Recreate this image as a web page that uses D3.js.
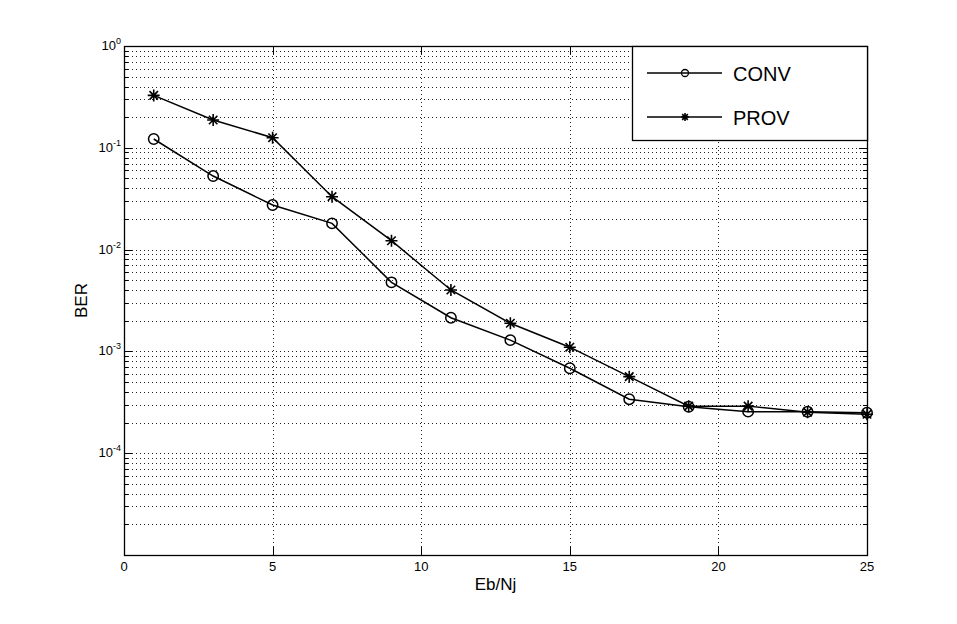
<!DOCTYPE html>
<html>
<head>
<meta charset="utf-8">
<title>BER vs Eb/Nj</title>
<script src="https://d3js.org/d3.v7.min.js"></script>
<style>
    body { margin: 0; background: #fff; }
    svg text { font-family: "Liberation Sans", Arial, sans-serif; fill: #000; }
</style>
</head>
<body>
<svg id="chart" width="957" height="624"></svg>
<script>
// data
var ebnj = [1, 3, 5, 7, 9, 11, 13, 15, 17, 19, 21, 23, 25];
var conv = [0.122, 0.0528, 0.0274, 0.0181, 0.00477, 0.00214, 0.00129, 0.000683, 0.000339, 0.000286, 0.000256, 0.000255, 0.00025];
var prov = [0.327, 0.1875, 0.1257, 0.0331, 0.01223, 0.00401, 0.00189, 0.0011, 0.000565, 0.00029, 0.00029, 0.000253, 0.000241];
var xTicks = [0, 5, 10, 15, 20, 25];
var yExps = [0, -1, -2, -3, -4];

var pL = 124, pR = 867, pT = 46, pB = 555;

var svg = d3.select("#chart");

var x = d3.scaleLinear().domain([0, 25]).range([pL, pR]);
var y = d3.scaleLog().domain([1e-5, 1]).range([pB, pT]);

// minor + major log positions
var yAll = [];
for (var e = -5; e < 0; e++) {
    for (var k = 1; k <= 9; k++) yAll.push(k * Math.pow(10, e));
}
yAll.push(1);

// grid
var grid = svg.append("g").attr("stroke", "#222").attr("stroke-width", 1)
    .attr("stroke-dasharray", "1,3").attr("fill", "none");
grid.selectAll("line.h").data(yAll.filter(function (d) { return d > 1.01e-5 && d < 0.99; }))
    .enter().append("line")
    .attr("x1", pL).attr("x2", pR)
    .attr("y1", function (d) { return Math.round(y(d)) + 0.5; })
    .attr("y2", function (d) { return Math.round(y(d)) + 0.5; });
grid.selectAll("line.v").data(xTicks.slice(1, -1))
    .enter().append("line")
    .attr("y1", pT).attr("y2", pB)
    .attr("x1", function (d) { return Math.round(x(d)) + 0.5; })
    .attr("x2", function (d) { return Math.round(x(d)) + 0.5; });

// ticks inside the box
var ticks = svg.append("g").attr("stroke", "#000").attr("stroke-width", 1);
xTicks.forEach(function (d) {
    var px = Math.round(x(d)) + 0.5;
    ticks.append("line").attr("x1", px).attr("x2", px).attr("y1", pB).attr("y2", pB - 8);
    ticks.append("line").attr("x1", px).attr("x2", px).attr("y1", pT).attr("y2", pT + 8);
});
yAll.forEach(function (d) {
    var py = Math.round(y(d)) + 0.5;
    var major = Math.abs(Math.log10(d) - Math.round(Math.log10(d))) < 1e-9;
    var len = major ? 8 : 4;
    ticks.append("line").attr("x1", pL).attr("x2", pL + len).attr("y1", py).attr("y2", py);
    ticks.append("line").attr("x1", pR).attr("x2", pR - len).attr("y1", py).attr("y2", py);
});

// axes box
svg.append("rect").attr("x", pL + 0.5).attr("y", pT + 0.5)
    .attr("width", pR - pL).attr("height", pB - pT)
    .attr("fill", "none").attr("stroke", "#000").attr("stroke-width", 1.3);

// tick labels
svg.append("g").selectAll("text").data(xTicks).enter().append("text")
    .attr("x", function (d) { return x(d); })
    .attr("y", pB + 16)
    .attr("text-anchor", "middle")
    .style("font-size", "13px")
    .text(function (d) { return d; });

var yl = svg.append("g").selectAll("text").data(yExps).enter().append("text")
    .attr("x", pL - 3)
    .attr("y", function (d) { return y(Math.pow(10, d)) + 4; })
    .attr("text-anchor", "end")
    .style("font-size", "13px");
yl.append("tspan").text("10");
yl.append("tspan").attr("dy", -6).style("font-size", "9px").text(function (d) { return d; });

// axis titles
svg.append("text").attr("x", (pL + pR) / 2).attr("y", 590)
    .attr("text-anchor", "middle").style("font-size", "17px").text("Eb/Nj");
svg.append("text").attr("transform", "translate(87," + ((pT + pB) / 2) + ") rotate(-90)")
    .attr("text-anchor", "middle").style("font-size", "17px").text("BER");

// series
var line = d3.line()
    .x(function (d) { return x(d[0]); })
    .y(function (d) { return y(d[1]); });

function star(g, cx, cy, r) {
    var d = "";
    for (var i = 0; i < 4; i++) {
        var a = i * Math.PI / 4;
        d += "M" + (cx - r * Math.cos(a)) + "," + (cy - r * Math.sin(a)) +
             "L" + (cx + r * Math.cos(a)) + "," + (cy + r * Math.sin(a));
    }
    g.append("path").attr("d", d).attr("stroke", "#000").attr("stroke-width", 1.6).attr("fill", "none");
}

var convPts = ebnj.map(function (v, i) { return [v, conv[i]]; });
var provPts = ebnj.map(function (v, i) { return [v, prov[i]]; });

var plot = svg.append("g");
plot.append("path").datum(convPts).attr("d", line)
    .attr("fill", "none").attr("stroke", "#000").attr("stroke-width", 1.5);
plot.append("path").datum(provPts).attr("d", line)
    .attr("fill", "none").attr("stroke", "#000").attr("stroke-width", 1.5);

plot.selectAll("circle").data(convPts).enter().append("circle")
    .attr("cx", function (d) { return x(d[0]); })
    .attr("cy", function (d) { return y(d[1]); })
    .attr("r", 5.2).attr("fill", "none").attr("stroke", "#000").attr("stroke-width", 1.5);
provPts.forEach(function (d) { star(plot, x(d[0]), y(d[1]), 6); });

// legend
var lg = svg.append("g");
lg.append("rect").attr("x", 632.5).attr("y", pT + 0.5).attr("width", pR - 632).attr("height", 94)
    .attr("fill", "#fff").attr("stroke", "#000").attr("stroke-width", 1.3);
var names = ["CONV", "PROV"];
names.forEach(function (n, i) {
    var ly = 73 + i * 44;
    lg.append("line").attr("x1", 647).attr("x2", 722).attr("y1", ly).attr("y2", ly)
        .attr("stroke", "#000").attr("stroke-width", 1.5);
    if (i === 0) {
        lg.append("circle").attr("cx", 685).attr("cy", ly).attr("r", 3.5)
            .attr("fill", "none").attr("stroke", "#000").attr("stroke-width", 1.3);
    } else {
        star(lg, 685, ly, 4);
    }
    lg.append("text").attr("x", 733).attr("y", ly + 7.5).style("font-size", "20px").text(n);
});
</script>
</body>
</html>
